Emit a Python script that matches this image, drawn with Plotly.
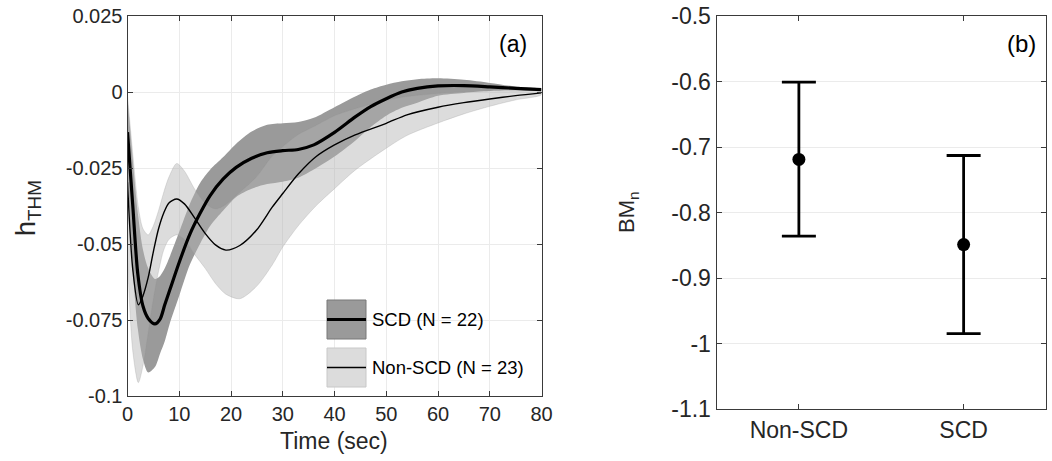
import plotly.graph_objects as go

# ---------------- data: panel (a) ----------------
t_scd = [0, 1, 2, 3, 4, 5.3, 6.3, 7.2, 8.2, 10, 12, 14, 16, 18.5, 21, 24, 27, 30,
         33, 36, 40, 44, 47, 50, 53, 56, 60, 65, 70, 75, 80]
scd_mean = [-0.0132, -0.037, -0.060, -0.0705, -0.0745, -0.0763, -0.0747, -0.0700,
            -0.0650, -0.0560, -0.0470, -0.0400, -0.0340, -0.0286, -0.0248, -0.0218,
            -0.0200, -0.0193, -0.0189, -0.0174, -0.0133, -0.0082, -0.0048, -0.0022,
            0.0000, 0.0012, 0.0020, 0.0021, 0.0017, 0.0012, 0.0008]
scd_upper = [-0.002, -0.022, -0.040, -0.052, -0.058, -0.0615, -0.0605, -0.058,
             -0.054, -0.046, -0.037, -0.030, -0.0255, -0.0214, -0.0170, -0.0130,
             -0.0108, -0.0103, -0.0099, -0.0085, -0.0050, -0.0015, 0.0008, 0.0024,
             0.0035, 0.0042, 0.0045, 0.0040, 0.0030, 0.0018, 0.0010]
scd_lower = [-0.025, -0.058, -0.078, -0.088, -0.0923, -0.0905, -0.086, -0.082,
             -0.076, -0.067, -0.057, -0.050, -0.044, -0.039, -0.0345, -0.0318,
             -0.0303, -0.0295, -0.0282, -0.0255, -0.0212, -0.0160, -0.0115, -0.0078,
             -0.0052, -0.0035, -0.0012, -0.0003, 0.0003, 0.0005, 0.0006]

t_non = [0, 1, 2.1, 3, 4, 5, 6, 7, 8, 9.5, 11, 13, 15, 17, 19, 21.7, 24.9, 28, 30,
         33, 36.4, 40, 44, 50, 54, 60, 65, 70, 75, 80]
non_mean = [-0.0297, -0.058, -0.0700, -0.067, -0.061, -0.0525, -0.045, -0.0398,
            -0.0365, -0.0352, -0.0368, -0.0415, -0.0465, -0.0503, -0.0520, -0.0505,
            -0.0455, -0.0378, -0.0334, -0.0270, -0.0213, -0.0174, -0.0141, -0.0103,
            -0.0075, -0.0050, -0.0035, -0.0023, -0.0012, -0.0003]
non_upper = [-0.001, -0.020, -0.038, -0.045, -0.047, -0.044, -0.039, -0.033,
             -0.028, -0.0235, -0.026, -0.032, -0.0365, -0.0385, -0.037, -0.033,
             -0.028, -0.021, -0.018, -0.014, -0.011, -0.0078, -0.0055, -0.0028,
             -0.0015, -0.0005, 0.0, 0.0002, 0.0003, 0.0003]
non_lower = [-0.055, -0.085, -0.0956, -0.090, -0.079, -0.068, -0.059, -0.052,
             -0.0485, -0.0470, -0.0485, -0.0535, -0.058, -0.063, -0.0665, -0.068,
             -0.064, -0.0568, -0.051, -0.044, -0.0375, -0.0318, -0.0257, -0.0185,
             -0.0143, -0.0102, -0.0072, -0.0047, -0.0026, -0.0009]

x_ticks_a = [0, 10, 20, 30, 40, 50, 60, 70, 80]
y_ticks_a = [0.025, 0, -0.025, -0.05, -0.075, -0.1]
y_labels_a = ["0.025", "0", "-0.025", "-0.05", "-0.075", "-0.1"]

# ---------------- data: panel (b) ----------------
groups = ["Non-SCD", "SCD"]
bm_mean = [-0.719, -0.849]
bm_upper = [-0.601, -0.713]
bm_lower = [-0.836, -0.985]
y_ticks_b = [-0.5, -0.6, -0.7, -0.8, -0.9, -1.0, -1.1]
y_labels_b = ["-0.5", "-0.6", "-0.7", "-0.8", "-0.9", "-1", "-1.1"]

legend_labels = ["SCD (N = 22)", "Non-SCD (N = 23)"]

# ---------------- figure ----------------
W, H = 1052, 461
FONT = "Liberation Sans, Arial, Helvetica, sans-serif"
TXT = "#262626"
AX = "#3a3a3a"
GRID = "#ebebeb"


def px(x):
    return x / W


def py(y):
    return 1 - y / H


DARK_FILL = "rgb(154,154,154)"
LIGHT_FILL = "rgba(178,178,178,0.46)"

fig = go.Figure()

fig.add_trace(go.Scatter(
    x=t_scd + t_scd[::-1], y=scd_upper + scd_lower[::-1],
    fill="toself", fillcolor=DARK_FILL, mode="lines",
    line=dict(width=0, shape="spline", smoothing=0.8, color=DARK_FILL),
    hoverinfo="skip", xaxis="x", yaxis="y"))
fig.add_trace(go.Scatter(
    x=t_non + t_non[::-1], y=non_upper + non_lower[::-1],
    fill="toself", fillcolor=LIGHT_FILL, mode="lines",
    line=dict(width=0.7, shape="spline", smoothing=0.8, color="rgba(150,150,150,0.35)"),
    hoverinfo="skip", xaxis="x", yaxis="y"))
fig.add_trace(go.Scatter(
    x=t_non, y=non_mean, mode="lines",
    line=dict(width=1.4, color="black", shape="spline", smoothing=0.8),
    xaxis="x", yaxis="y"))
fig.add_trace(go.Scatter(
    x=t_scd, y=scd_mean, mode="lines",
    line=dict(width=3.2, color="black", shape="spline", smoothing=0.8),
    xaxis="x", yaxis="y"))

err_plus = [u - m for u, m in zip(bm_upper, bm_mean)]
err_minus = [m - l for m, l in zip(bm_mean, bm_lower)]
fig.add_trace(go.Scatter(
    x=groups, y=bm_mean, mode="markers",
    marker=dict(size=13, color="black"),
    error_y=dict(type="data", symmetric=False, array=err_plus, arrayminus=err_minus,
                 thickness=2.8, width=17, color="black"),
    xaxis="x2", yaxis="y2"))

axis_common = dict(showline=True, linecolor=AX, linewidth=1, mirror="ticks",
                   ticks="inside", ticklen=5, tickcolor=AX, zeroline=False,
                   automargin=False)

fig.update_layout(
    width=W, height=H, margin=dict(l=0, r=0, t=0, b=0, autoexpand=False),
    paper_bgcolor="white", plot_bgcolor="white", showlegend=False,
    font=dict(family=FONT, color=TXT, size=19),
    xaxis=dict(domain=[px(127.5), px(541.5)], range=[0, 80], tickvals=x_ticks_a,
               showgrid=True, gridcolor=GRID, anchor="y",
               tickfont=dict(size=20, color=TXT), **axis_common),
    yaxis=dict(domain=[py(396), py(16)], range=[-0.1, 0.025], tickvals=y_ticks_a,
               ticktext=y_labels_a, showgrid=True, gridcolor=GRID, anchor="x",
               tickfont=dict(size=20, color=TXT), **axis_common),
    xaxis2=dict(domain=[px(716.5), px(1046)], range=[-0.5, 1.5], type="category",
                categoryorder="array", categoryarray=groups,
                showgrid=False, anchor="y2", tickfont=dict(size=23, color=TXT),
                **axis_common),
    yaxis2=dict(domain=[py(409), py(16)], range=[-1.1, -0.5], tickvals=y_ticks_b,
                ticktext=y_labels_b, showgrid=True, gridcolor=GRID, anchor="x2",
                tickfont=dict(size=23, color=TXT), **axis_common),
)

shapes = []
boxes = [(300, 339, DARK_FILL, "rgb(120,120,120)", 3.2, legend_labels[0]),
         (348, 387, "rgb(220,220,220)", "rgb(200,200,200)", 1.4, legend_labels[1])]
annotations = []
for y0, y1, fc, lc, lw, lab in boxes:
    shapes.append(dict(type="rect", xref="paper", yref="paper",
                       x0=px(327), x1=px(366), y0=py(y1), y1=py(y0),
                       fillcolor=fc, line=dict(color=lc, width=1), layer="above"))
    ym = (y0 + y1) / 2
    shapes.append(dict(type="line", xref="paper", yref="paper",
                       x0=px(327), x1=px(366), y0=py(ym), y1=py(ym),
                       line=dict(color="black", width=lw), layer="above"))
    annotations.append(dict(text=lab, xref="paper", yref="paper", x=px(370), y=py(ym),
                            xanchor="left", yanchor="middle", showarrow=False,
                            font=dict(size=18.5, color="black", family=FONT)))

annotations += [
    dict(text="(a)", xref="paper", yref="paper", x=px(529), y=py(44), xanchor="right",
         yanchor="middle", showarrow=False, font=dict(size=23, color="black", family=FONT)),
    dict(text="(b)", xref="paper", yref="paper", x=px(1038), y=py(44), xanchor="right",
         yanchor="middle", showarrow=False, font=dict(size=24, color="black", family=FONT)),
    dict(text="Time (sec)", xref="paper", yref="paper", x=px(334), y=py(441),
         xanchor="center", yanchor="middle", showarrow=False,
         font=dict(size=23, color=TXT, family=FONT)),
    dict(text="h<sub>THM</sub>", xref="paper", yref="paper", x=px(28), y=py(208),
         xanchor="center", yanchor="middle", textangle=-90, showarrow=False,
         font=dict(size=27, color=TXT, family=FONT)),
    dict(text="BM<sub>n</sub>", xref="paper", yref="paper", x=px(628), y=py(212),
         xanchor="center", yanchor="middle", textangle=-90, showarrow=False,
         font=dict(size=22, color=TXT, family=FONT)),
]
fig.update_layout(shapes=shapes, annotations=annotations)

fig.write_html(
    "out.html",
    config={"displayModeBar": False},
    post_script="document.body.style.margin='0';document.body.style.padding='0';"
                "document.body.style.overflow='hidden';",
)
